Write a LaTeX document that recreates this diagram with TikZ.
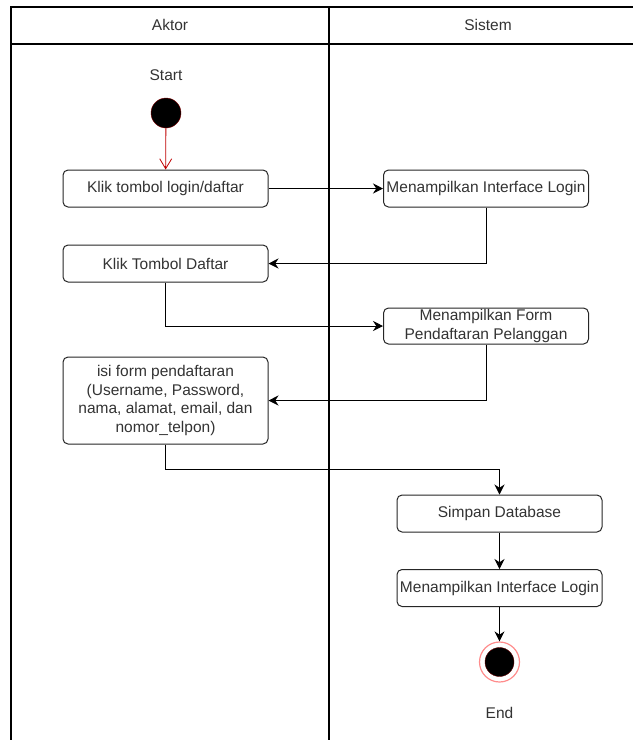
\documentclass[tikz,border=0pt]{standalone}
\usepackage{fontspec}
\setmainfont{Liberation Sans}
\usepackage{tikz}
\usetikzlibrary{arrows.meta,positioning,calc}

\tikzset{
  act/.style={draw=black!85, line width=1pt, rounded corners=5pt, fill=white,
              minimum width=205pt, minimum height=37pt, align=center,
              text=black!80, inner sep=1pt},
  flow/.style={-{Stealth[length=10pt,width=10pt]}, line width=0.9pt},
  lane/.style={line width=1.2pt}
}

\begin{document}
\begin{tikzpicture}[x=1pt, y=-1pt, font=\fontsize{15.5}{18.5}\selectfont]
  \useasboundingbox (0,0) rectangle (633,740);
  % swimlanes
  \draw[lane] (11,740) -- (11,7) -- (633,7);
  \draw[lane] (11,44) -- (633,44);
  \draw[lane] (329,7) -- (329,740);
  \node[text=black!80] (aktor) at (170,25) {Aktor};
  \node[text=black!80] (sistem) at (488,25) {Sistem};

  % start
  \node[text=black!80] (starttxt) at (166,75) {Start};
  \node[circle, fill=black, draw=red!50!black, minimum size=30pt, inner sep=0pt] (start) at (166,113) {};

  \node[act] (klik) at (165.5,188.5) {Klik tombol login/daftar};
  \node[act] (login) at (486,188.5) {Menampilkan Interface Login};
  \node[act] (daftar) at (165.5,263.5) {Klik Tombol Daftar};
  \node[act, minimum height=36pt] (form) at (486,326) {Menampilkan Form\\Pendaftaran Pelanggan};
  \node[act, minimum height=87pt] (isi) at (165.5,400.5) {isi form pendaftaran\\(Username, Password,\\nama, alamat, email, dan\\nomor\_telpon)};
  \node[act] (simpan) at (499.5,513.5) {Simpan Database};
  \node[act] (login2) at (499.5,588) {Menampilkan Interface Login};

  % end
  \node[circle, draw=red!45, line width=1.2pt, fill=white, minimum size=40pt, inner sep=0pt] (end) at (499.5,662) {};
  \node[circle, fill=black, draw=red!40!black, minimum size=29pt, inner sep=0pt] (endin) at (end) {};
  \node[text=black!80] (endtxt) at (499.5,713) {End};

  \draw[-{Straight Barb[length=10pt,width=12pt]}, line width=0.8pt, red!75!black] (start) -- (klik);
  \draw[flow] (klik) -- (login);
  \draw[flow] (login.south) |- (daftar.east);
  \draw[flow] (daftar.south) |- (form.west);
  \draw[flow] (form.south) |- (isi.east);
  % to system lane
  \coordinate (bend) at (499.5,469);
  \draw[flow] (isi.south) |- (bend) -- (simpan.north);
  \draw[flow] (simpan) -- (login2);
  \draw[flow] (login2) -- (end);
\end{tikzpicture}
\end{document}
